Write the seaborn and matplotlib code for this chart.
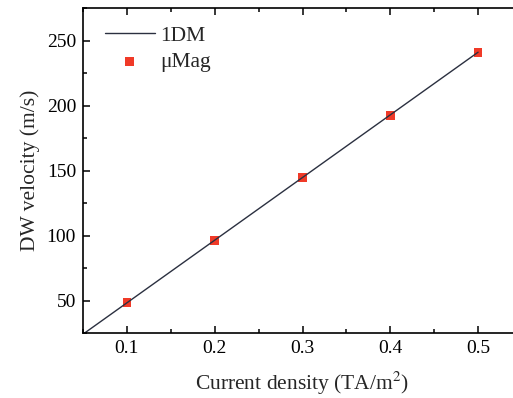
import matplotlib
matplotlib.use("Agg")
import matplotlib.pyplot as plt
import seaborn as sns
import pandas as pd
from matplotlib.ticker import MultipleLocator

# data
j_sim = [0.1, 0.2, 0.3, 0.4, 0.5]
v_sim = [48.3, 96.4, 144.6, 192.6, 241.0]
j_model = [0.05, 0.5]
v_model = [24.1, 241.0]
x_ticks = [0.1, 0.2, 0.3, 0.4, 0.5]
x_labels = ["0.1", "0.2", "0.3", "0.4", "0.5"]
y_ticks = [50, 100, 150, 200, 250]
y_labels = ["50", "100", "150", "200", "250"]

sns.set_theme(style="ticks")
plt.rcParams['font.family'] = ['Liberation Serif', 'DejaVu Serif']
plt.rcParams['mathtext.fontset'] = 'stix'

fig = plt.figure(figsize=(5.13, 3.98), dpi=100)
ax = fig.add_axes([83/513, (398-333)/398, (522-83)/513, (333-8)/398])

df_m = pd.DataFrame({"j": j_model, "v": v_model})
df_s = pd.DataFrame({"j": j_sim, "v": v_sim})
sns.lineplot(data=df_m, x="j", y="v", ax=ax, color="#2b3040", lw=1.0, label="1DM")
sns.scatterplot(data=df_s, x="j", y="v", ax=ax, color="#f03a28", marker="s", s=40,
                edgecolor="none", label="μMag")

ax.xaxis.set_minor_locator(MultipleLocator(0.05))
ax.yaxis.set_minor_locator(MultipleLocator(25))
ax.set_xticks(x_ticks)
ax.set_xticklabels(x_labels)
ax.set_yticks(y_ticks)
ax.set_yticklabels(y_labels)
ax.set_xlim(0.05, 0.55)
ax.set_ylim(25, 275)
ax.tick_params(which="both", direction="in", top=True, right=True, colors="black",
               labelsize=14, width=1.1, pad=5)
ax.tick_params(which="major", length=5)
ax.tick_params(which="minor", length=3)
for s in ax.spines.values():
    s.set_linewidth(1.2)
    s.set_color("black")

ax.set_xlabel("Current density (TA/m$^2$)", fontsize=15.5, labelpad=9)
ax.set_ylabel("DW velocity (m/s)", fontsize=15.5, labelpad=5)

leg = ax.legend(loc="upper left", frameon=False, fontsize=15.5, handlelength=2.3,
                borderaxespad=0.0, borderpad=0.0, handletextpad=0.25, labelspacing=0.3,
                bbox_to_anchor=(22/439, 0.945))

fig.savefig("out.png", dpi=100)
